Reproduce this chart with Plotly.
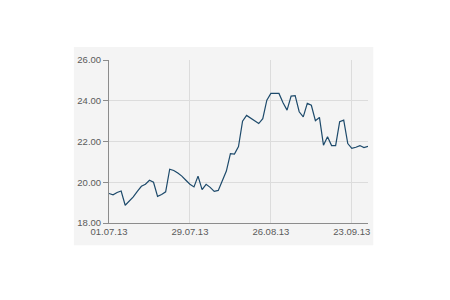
import plotly.graph_objects as go
import pandas as pd

dates = pd.bdate_range("2013-07-01", "2013-09-27").strftime("%d.%m.%y").tolist()
values = [19.45, 19.38, 19.5, 19.57, 18.87, 19.08, 19.28, 19.55, 19.8, 19.9,
          20.1, 20.0, 19.31, 19.4, 19.53, 20.64, 20.58, 20.45, 20.3, 20.1,
          19.9, 19.77, 20.3, 19.64, 19.9, 19.75, 19.55, 19.6, 20.1, 20.55,
          21.4, 21.38, 21.75, 23.0, 23.28, 23.15, 23.0, 22.88, 23.12, 24.03,
          24.36, 24.36, 24.36, 23.9, 23.54, 24.23, 24.25, 23.46, 23.21, 23.87,
          23.78, 23.02, 23.18, 21.82, 22.23, 21.8, 21.8, 22.97, 23.05, 21.9,
          21.66, 21.72, 21.8, 21.7, 21.76]
tick_labels = ["01.07.13", "29.07.13", "26.08.13", "23.09.13"]
y_ticks = [18, 20, 22, 24, 26]

idx = list(range(len(values)))
tick_idx = [dates.index(t) for t in tick_labels]

fig = go.Figure(go.Scatter(x=idx, y=values, mode="lines",
                           line=dict(color="#1d4a6b", width=1.2),
                           hoverinfo="skip"))

panel = "#f4f4f4"
fig.add_shape(type="rect", xref="paper", yref="paper",
              x0=-35/258.4, x1=1 + 5.3/258.4, y0=-22.3/162.7, y1=1 + 13/162.7,
              fillcolor=panel, line=dict(width=0), layer="below")

fig.update_layout(
    width=450, height=300,
    margin=dict(l=109, r=82, t=60, b=77),
    paper_bgcolor="white", plot_bgcolor=panel,
    showlegend=False,
    font=dict(family="Arial, Liberation Sans, sans-serif", size=9.5, color="#5a5a5a"),
)
fig.update_xaxes(range=[0, len(values) - 1], tickvals=tick_idx, ticktext=tick_labels,
                 showgrid=True, gridcolor="#dcdcdc", gridwidth=1,
                 showline=True, linecolor="#8c8c8c", linewidth=1,
                 ticks="", zeroline=False, ticklabelstandoff=0)
fig.update_yaxes(range=[18, 26], tickvals=y_ticks,
                 ticktext=[f"{v:.2f}" for v in y_ticks],
                 showgrid=True, gridcolor="#dcdcdc", gridwidth=1,
                 showline=True, linecolor="#8c8c8c", linewidth=1,
                 ticks="outside", ticklen=5, tickcolor="#8c8c8c",
                 zeroline=False)

fig.write_html("out.html")
